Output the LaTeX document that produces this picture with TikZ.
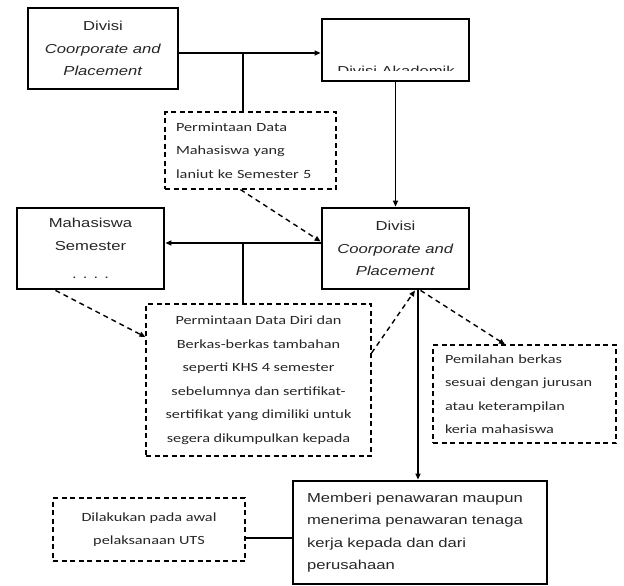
\documentclass[tikz,border=0pt]{standalone}
\usepackage{fontspec}
\setmainfont{Liberation Sans}[FakeStretch=1.28]
\newfontfamily\calfont{Carlito}[FakeStretch=1.3]
\usetikzlibrary{arrows.meta}
\definecolor{txt}{HTML}{262626}
\begin{document}
\begin{tikzpicture}[x=1pt,y=-1pt,
  sbox/.style={draw, line width=2.8pt, inner sep=0pt, align=center, text=txt,
    font=\fontsize{13}{22.5}\selectfont},
  dbox/.style={draw, line width=1.2pt, dash pattern=on 5pt off 3.5pt, inner sep=0pt,
    text=txt, font=\calfont\fontsize{12.5}{23.5}\selectfont},
  arr/.style={line width=1.4pt, -{Triangle[length=6pt,width=5pt]}},
  darr/.style={line width=1.4pt, dash pattern=on 5pt off 4pt, -{Triangle[length=6pt,width=5pt]}},
  link/.style={line width=1.4pt}]
\useasboundingbox (0,0) rectangle (624,586);

% solid boxes
\node[sbox, minimum width=150pt, minimum height=81pt] (A) at (103,48.5)
  {Divisi\\\textit{Coorporate and}\\\textit{Placement}};
\node[sbox, minimum width=147pt, minimum height=62pt] (B) at (395.5,50) {};
\begin{scope}
  \clip (322,19) rectangle (469,71);
  \node[anchor=base, inner sep=0pt, text=txt, font=\fontsize{13}{22.5}\selectfont] (Btxt) at (396,76) {Divisi Akademik};
\end{scope}
\node[sbox, minimum width=147pt, minimum height=81pt] (C) at (395.5,248.5)
  {Divisi\\\textit{Coorporate and}\\\textit{Placement}};
\node[sbox, minimum width=147pt, minimum height=81pt] (D) at (90.5,248.5)
  {Mahasiswa\\Semester\\[6pt]. . . .};
\node[sbox, align=left, text width=226pt, inner xsep=14pt, minimum height=103pt] (E) at (420,532.5)
  {Memberi penawaran maupun\\menerima penawaran tenaga\\kerja kepada dan dari\\perusahaan};

% dashed boxes
\node[dbox, align=left, text width=149pt, inner xsep=11pt, minimum height=77pt] (d1) at (250.5,150.5)
  {Permintaan Data\\Mahasiswa yang\\laniut ke Semester 5};
\node[dbox, align=center, minimum width=225pt, minimum height=152pt] (d2) at (258.5,380)
  {Permintaan Data Diri dan\\Berkas-berkas tambahan\\seperti KHS 4 semester\\sebelumnya dan sertifikat-\\sertifikat yang dimiliki untuk\\segera dikumpulkan kepada};
\node[dbox, align=left, text width=159pt, inner xsep=12pt, minimum height=98pt] (d3) at (524.5,394)
  {Pemilahan berkas\\sesuai dengan jurusan\\atau keterampilan\\keria mahasiswa};
\node[dbox, align=center, minimum width=192pt, minimum height=63pt] (d4) at (149,529.5)
  {Dilakukan pada awal\\pelaksanaan UTS};

% connectors
\coordinate (ab) at (243,53);
\draw[arr] (A.east |- ab) -- (B.west |- ab);
\draw[link] (ab) -- (ab |- d1.north);
\draw[arr] (B.south) -- (C.north);
\draw[darr] ([xshift=-10pt]d1.south) -- ([yshift=7pt]C.west);
\coordinate (cd) at (243,243);
\draw[arr] (C.west |- cd) -- (D.east |- cd);
\draw[link] (cd) -- (cd |- d2.north);
\draw[darr] ([xshift=-35pt]D.south) -- ([yshift=43pt]d2.west);
\draw[darr] ([yshift=27pt]d2.east) -- ([xshift=19.5pt]C.south);
\draw[arr] ([xshift=22.5pt]C.south) -- ([xshift=-2pt]E.north);
\draw[darr] ([xshift=25pt]C.south) -- ([xshift=-19.5pt]d3.north);
\draw[link] ([yshift=-8.5pt]d4.east) -- ([yshift=-8.5pt]d4.east -| E.west);
\end{tikzpicture}
\end{document}
